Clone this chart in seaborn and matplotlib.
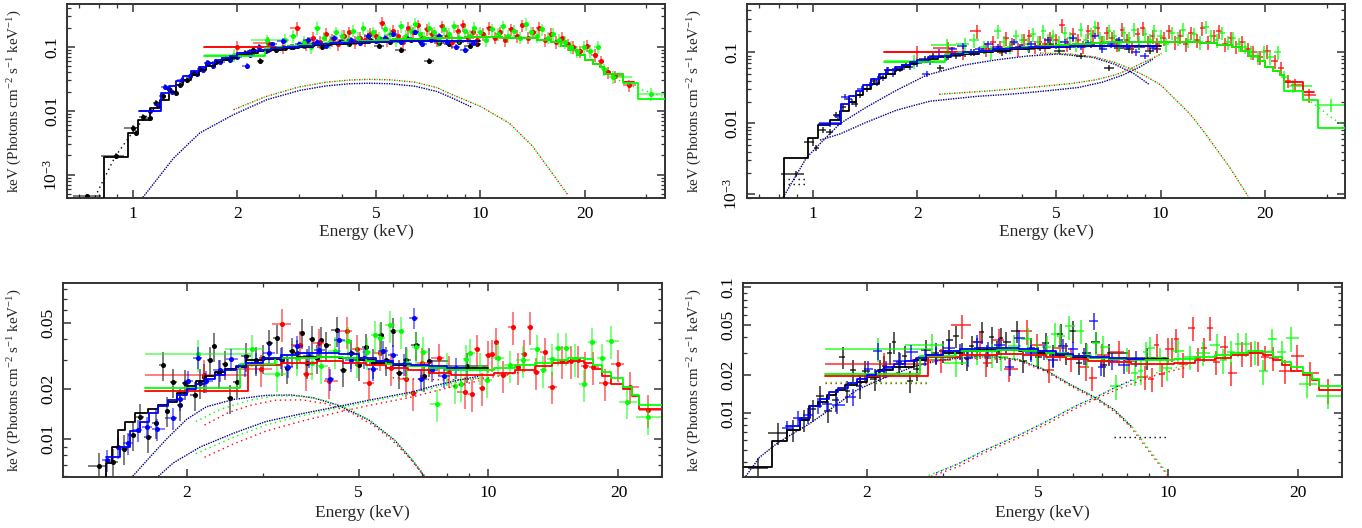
import numpy as np
import matplotlib
matplotlib.use("Agg")
import matplotlib.pyplot as plt
import seaborn as sns
from matplotlib.ticker import FixedLocator, FixedFormatter, LogLocator, NullFormatter

sns.set_theme(style="ticks")
plt.rcParams["font.family"] = ["Liberation Serif", "DejaVu Serif"]
plt.rcParams["mathtext.default"] = "regular"

BLACK, RED, GREEN, BLUE = "#000000", "#ff0000", "#00ff00", "#0000ff"
YLABEL = r"keV (Photons cm$^{-2}$ s$^{-1}$ keV$^{-1}$)"

# ======================= TOP ROW (panels A and B) =======================
top_k_E = [0.74, 0.894, 1.0, 1.02, 1.07, 1.12, 1.17, 1.22, 1.27, 1.33, 1.37, 1.43, 1.50, 1.56, 1.65,
           1.74, 1.86, 1.95, 2.1, 2.22, 2.33, 2.45, 2.59, 2.75, 2.9, 3.1, 3.3, 3.5, 3.7, 3.95, 4.2,
           4.5, 4.8, 5.1, 5.5, 5.9, 6.3, 6.7, 7.1, 7.6, 8.1, 8.7, 9.3, 9.8]
top_k_F = [0.00046, 0.00196, 0.0054, 0.0045, 0.0081, 0.0076, 0.0132, 0.0168, 0.0218, 0.019, 0.0255,
           0.0305, 0.0397, 0.045, 0.0557, 0.059, 0.066, 0.0705, 0.08, 0.09, 0.06, 0.088, 0.09, 0.095,
           0.1, 0.105, 0.11, 0.1, 0.115, 0.12, 0.11, 0.125, 0.13, 0.105, 0.12, 0.09, 0.13, 0.125,
           0.06, 0.115, 0.11, 0.12, 0.105, 0.11]
top_b_E = [1.12, 1.18, 1.24, 1.3, 1.39, 1.46, 1.53, 1.59, 1.64, 1.70, 1.78, 1.9, 2.0, 2.13, 2.18,
           2.31, 2.42, 2.52, 2.7, 2.85, 3.0, 3.2, 3.4, 3.6, 3.8, 4.0, 4.25, 4.5, 4.75, 5.0, 5.3,
           5.6, 5.9, 6.2, 6.5, 6.8, 7.2, 7.6, 8.0, 8.5, 9.0, 9.5]
top_b_F = [0.01, 0.0125, 0.0235, 0.02, 0.0305, 0.0344, 0.037, 0.044, 0.056, 0.05, 0.059, 0.063,
           0.07, 0.05, 0.074, 0.1, 0.085, 0.11, 0.125, 0.1, 0.11, 0.13, 0.12, 0.105, 0.14, 0.12,
           0.13, 0.115, 0.15, 0.125, 0.14, 0.16, 0.12, 0.135, 0.17, 0.11, 0.13, 0.15, 0.12, 0.1,
           0.09, 0.115]
top_r_E = [2.0, 2.45, 2.7, 2.96, 3.15, 3.3, 3.45, 3.6, 3.75, 3.9, 4.05, 4.2, 4.35, 4.5, 4.65, 4.8,
           5.0, 5.2, 5.4, 5.6, 5.8, 6.0, 6.2, 6.4, 6.6, 6.8, 7.0, 7.25, 7.5, 7.75, 8.0, 8.3, 8.6,
           8.9, 9.2, 9.5, 9.8, 10.2, 10.6, 11.0, 11.4, 11.8, 12.2, 12.7, 13.2, 13.7, 14.2, 14.7,
           15.3, 15.9, 16.5, 17.1, 17.8, 18.5, 19.3, 20.2, 21.3, 22.2, 23.2, 24.3, 26.8]
top_r_F = [0.1, 0.115, 0.1, 0.2, 0.11, 0.14, 0.12, 0.16, 0.13, 0.11, 0.15, 0.17, 0.12, 0.14, 0.13,
           0.16, 0.15, 0.24, 0.13, 0.18, 0.15, 0.12, 0.2, 0.17, 0.22, 0.14, 0.19, 0.16, 0.13, 0.21,
           0.15, 0.12, 0.18, 0.22, 0.14, 0.17, 0.13, 0.16, 0.2, 0.14, 0.17, 0.13, 0.19, 0.15, 0.22,
           0.14, 0.17, 0.2, 0.13, 0.16, 0.12, 0.14, 0.11, 0.1, 0.085, 0.105, 0.075, 0.06, 0.04,
           0.035, 0.025]
top_g_E = [1.96, 2.43, 2.75, 2.9, 3.1, 3.25, 3.4, 3.55, 3.7, 3.85, 4.0, 4.15, 4.3, 4.45, 4.6, 4.75,
           4.9, 5.1, 5.3, 5.5, 5.7, 5.9, 6.1, 6.3, 6.5, 6.7, 6.9, 7.1, 7.35, 7.6, 7.85, 8.1, 8.4,
           8.7, 9.0, 9.3, 9.6, 10.0, 10.4, 10.8, 11.2, 11.6, 12.0, 12.5, 13.0, 13.5, 14.0, 14.5,
           15.0, 15.6, 16.2, 16.8, 17.5, 18.2, 19.0, 19.8, 20.7, 21.7, 22.7, 24.0, 31.0]
top_g_F = [0.075, 0.128, 0.13, 0.15, 0.12, 0.1, 0.2, 0.14, 0.12, 0.17, 0.15, 0.13, 0.18, 0.14, 0.2,
           0.15, 0.17, 0.14, 0.19, 0.16, 0.13, 0.21, 0.15, 0.18, 0.23, 0.16, 0.14, 0.2, 0.17, 0.13,
           0.19, 0.16, 0.21, 0.14, 0.18, 0.15, 0.2, 0.17, 0.13, 0.19, 0.16, 0.21, 0.15, 0.18, 0.14,
           0.23, 0.17, 0.15, 0.19, 0.14, 0.16, 0.13, 0.12, 0.1, 0.085, 0.1, 0.085, 0.1, 0.045,
           0.034, 0.0183]

# model (folded total) steps, top row
top_k_mod_edges = [0.827, 0.967, 1.035, 1.12, 1.2, 1.27, 1.33, 1.4, 1.47, 1.55, 1.63, 1.72, 1.81,
                   1.9, 2.0, 2.15, 2.3, 2.5, 2.7, 3.0, 3.3, 3.7, 4.2, 4.8, 5.5, 6.5, 7.5, 8.5, 10.0]
top_k_mod_vals = [0.0019, 0.0045, 0.0073, 0.011, 0.015, 0.02, 0.025, 0.03, 0.036, 0.043, 0.05,
                  0.057, 0.063, 0.068, 0.074, 0.08, 0.086, 0.091, 0.096, 0.101, 0.106, 0.111,
                  0.116, 0.12, 0.122, 0.123, 0.123, 0.123]
top_k_mod_low_b = [0.0032, 0.0063, 0.0094]
top_b_mod_edges = [1.04, 1.21, 1.27, 1.33, 1.4, 1.47, 1.55, 1.63, 1.72, 1.81, 1.9, 2.0, 2.15, 2.3,
                   2.5, 2.7, 3.0, 3.3, 3.7, 4.2, 4.8, 5.5, 6.5, 7.5, 8.5, 9.8]
top_b_mod_vals = [0.0098, 0.019, 0.024, 0.029, 0.035, 0.042, 0.049, 0.056, 0.062, 0.067, 0.073,
                  0.079, 0.085, 0.09, 0.095, 0.1, 0.105, 0.11, 0.115, 0.119, 0.121, 0.122, 0.122,
                  0.122, 0.122]
top_r_mod_edges = [1.6, 2.6, 2.8, 3.0, 3.3, 3.6, 4.0, 4.5, 5.0, 5.6, 6.3, 7.0, 8.0, 9.0, 10.0, 11.5,
                   13.0, 14.5, 16.0, 17.0, 18.0, 19.0, 20.0, 21.0, 22.0, 22.7, 25.6, 27.6]
top_r_mod_vals = [0.1, 0.098, 0.102, 0.106, 0.11, 0.115, 0.12, 0.125, 0.128, 0.132, 0.135, 0.138,
                  0.14, 0.141, 0.141, 0.14, 0.136, 0.128, 0.12, 0.105, 0.09, 0.075, 0.062, 0.054,
                  0.048, 0.038, 0.028]
top_g_mod_edges = [1.6, 2.4, 2.6, 2.8, 3.0, 3.3, 3.6, 4.0, 4.5, 5.0, 5.6, 6.3, 7.0, 8.0, 9.0, 10.0,
                   11.5, 13.0, 14.5, 16.0, 17.0, 18.0, 19.0, 20.0, 21.0, 22.0, 22.7, 25.6, 28.4, 33.9]
top_g_mod_vals = [0.073, 0.095, 0.098, 0.102, 0.106, 0.11, 0.115, 0.12, 0.125, 0.128, 0.132, 0.135,
                  0.138, 0.14, 0.141, 0.141, 0.14, 0.136, 0.128, 0.12, 0.105, 0.09, 0.075, 0.062,
                  0.054, 0.048, 0.038, 0.027, 0.0155]
top_g_mod_end_b = [0.029, 0.021, 0.0087]

# model components, panel A
A_bb_rg_E = [1.95, 2.4, 3.0, 3.6, 4.2, 4.8, 5.5, 6.5, 7.5, 8.2, 10.0, 12.1, 14.1, 15.8, 17.8]
A_bb_rg_F = [0.0104, 0.0165, 0.0235, 0.028, 0.0303, 0.031, 0.0305, 0.028, 0.023, 0.0184, 0.0117,
             0.0064, 0.0028, 0.0012, 0.00049]
A_bb_bk_E = [1.07, 1.31, 1.56, 1.95, 2.43, 3.02, 3.6, 4.2, 4.8, 5.5, 6.5, 7.5, 8.2, 9.4]
A_bb_bk_F = [0.00044, 0.0018, 0.0045, 0.0087, 0.0149, 0.0208, 0.0245, 0.0265, 0.027, 0.0265,
             0.0242, 0.02, 0.0163, 0.0115]
A_tot_k_E = [0.78, 0.89, 1.0, 1.1, 1.2]
A_tot_k_F = [0.00045, 0.0019, 0.0046, 0.0085, 0.013]
A_tot_g_E = [25.0, 28.0, 31.0, 33.9]
A_tot_g_F = [0.03, 0.023, 0.019, 0.0165]

# model components, panel B
B_up_bk_E = [0.823, 0.961, 1.073, 1.198, 1.43, 1.743, 2.126, 2.71, 3.4, 4.16, 5.08, 6.4, 7.39, 8.4, 9.3]
B_up_bk_F = [0.00091, 0.0033, 0.00575, 0.0099, 0.017, 0.0293, 0.0478, 0.066, 0.079, 0.089, 0.095,
             0.085, 0.068, 0.05, 0.035]
B_fall_rg_E = [4.5, 5.5, 6.5, 7.4, 8.18, 9.0, 10.0, 11.0, 12.13, 13.1, 14.1, 15.8, 17.8, 18.6]
B_fall_rg_F = [0.098, 0.095, 0.086, 0.072, 0.059, 0.047, 0.035, 0.022, 0.0137, 0.0085, 0.0052,
               0.0024, 0.00096, 0.0007]
B_low_bk_E = [1.05, 1.2, 1.43, 1.74, 2.17, 2.96, 3.8, 4.8, 5.8, 6.8, 7.8, 8.7, 9.5]
B_low_bk_F = [0.0058, 0.0071, 0.0104, 0.0153, 0.0205, 0.024, 0.026, 0.029, 0.032, 0.038, 0.048,
              0.062, 0.08]
B_low_rg_E = [2.31, 3.0, 3.6, 4.5, 5.54, 6.5, 7.39, 8.1, 8.8, 9.5, 10.1]
B_low_rg_F = [0.0257, 0.028, 0.0299, 0.033, 0.0364, 0.041, 0.048, 0.057, 0.07, 0.083, 0.097]
B_flat_k_range = [0.823, 0.961]
B_flat_k_levels = [0.00165, 0.0014]
B_tot_g_E = [25.6, 28.4, 31.0, 33.9]
B_tot_g_F = [0.024, 0.017, 0.012, 0.0092]

# ======================= BOTTOM ROW (panels C and D) =======================
bot_k_E = [1.12, 1.25, 1.35, 1.43, 1.5, 1.56, 1.63, 1.70, 1.76, 1.80, 1.86, 1.93, 1.98, 2.09, 2.15,
           2.19, 2.27, 2.31, 2.38, 2.45, 2.52, 2.61, 2.74, 2.89, 3.0, 3.1, 3.23, 3.33, 3.42, 3.5,
           3.6, 3.7, 3.8, 3.9, 4.0, 4.1, 4.2, 4.45, 4.6, 4.8, 5.0, 5.2, 5.4, 5.63, 5.8, 6.0, 6.2,
           6.45, 6.8, 7.1, 7.3, 8.9]
bot_k_F = [0.0036, 0.0069, 0.0073, 0.0088, 0.0106, 0.0137, 0.0104, 0.0126, 0.028, 0.0149, 0.0221,
           0.0162, 0.0217, 0.0185, 0.022, 0.0238, 0.0301, 0.0365, 0.0252, 0.0284, 0.0178, 0.0222,
           0.0318, 0.030, 0.031, 0.038, 0.0407, 0.030, 0.027, 0.034, 0.033, 0.044, 0.029, 0.040,
           0.031, 0.0394, 0.037, 0.0453, 0.026, 0.033, 0.028, 0.036, 0.029, 0.0423, 0.030, 0.045,
           0.025, 0.030, 0.037, 0.024, 0.0297, 0.0275]
bot_b_E = [1.31, 1.39, 1.46, 1.54, 1.62, 1.71, 1.86, 1.93, 2.01, 2.12, 2.22, 2.39, 2.54, 2.73, 2.9,
           3.1, 3.3, 3.44, 3.61, 3.83, 4.05, 4.3, 4.5, 4.8, 5.14, 5.4, 5.7, 6.0, 6.36, 6.74, 6.98,
           7.4, 7.9, 8.4]
bot_b_F = [0.0075, 0.009, 0.0095, 0.0114, 0.0118, 0.0115, 0.0134, 0.0175, 0.0224, 0.0311, 0.0224,
           0.026, 0.0303, 0.028, 0.029, 0.033, 0.031, 0.0274, 0.0365, 0.0316, 0.0345, 0.023,
           0.0394, 0.03, 0.031, 0.0265, 0.034, 0.032, 0.0284, 0.054, 0.023, 0.026, 0.024, 0.027]
bot_r_E = [2.19, 2.97, 3.33, 3.66, 3.78, 4.05, 4.27, 4.71, 4.96, 5.28, 5.6, 5.95, 6.44, 6.67, 7.0,
           7.7, 8.1, 8.81, 9.14, 9.4, 9.64, 10.0, 10.2, 10.4, 10.8, 11.4, 11.7, 12.1, 12.5, 12.9,
           13.5, 14.0, 14.8, 15.5, 16.1, 16.7, 17.5, 18.6, 19.9, 21.3, 23.4]
bot_r_F = [0.0245, 0.0265, 0.0498, 0.0368, 0.0249, 0.038, 0.0224, 0.0447, 0.035, 0.022, 0.033,
           0.027, 0.023, 0.019, 0.029, 0.0307, 0.026, 0.0194, 0.0187, 0.0349, 0.0205, 0.0322,
           0.0325, 0.0384, 0.0244, 0.0477, 0.0271, 0.0326, 0.0477, 0.0255, 0.0336, 0.0208,
           0.0298, 0.0298, 0.030, 0.0277, 0.0274, 0.0217, 0.0283, 0.0208, 0.0151]
bot_g_E = [2.13, 2.83, 3.23, 3.6, 3.9, 4.1, 4.4, 4.73, 4.95, 5.23, 5.45, 5.6, 5.9, 6.26, 6.48, 6.8,
           7.07, 7.58, 8.0, 8.36, 8.62, 8.88, 9.07, 9.56, 9.9, 10.5, 11.2, 12.0, 12.95, 13.4, 14.0,
           14.5, 15.1, 15.9, 16.6, 17.4, 18.3, 19.2, 20.9, 23.4]
bot_g_F = [0.0325, 0.035, 0.0247, 0.031, 0.029, 0.0277, 0.034, 0.039, 0.030, 0.0335, 0.0423, 0.041,
           0.0488, 0.045, 0.029, 0.036, 0.0337, 0.0163, 0.027, 0.0209, 0.0214, 0.0303, 0.033,
           0.0271, 0.0228, 0.031, 0.028, 0.030, 0.0348, 0.0262, 0.0306, 0.0356, 0.0356, 0.0306,
           0.0214, 0.0384, 0.0307, 0.0393, 0.0169, 0.0137]

C_k_mod_edges = [1.15, 1.30, 1.34, 1.39, 1.44, 1.52, 1.63, 1.72, 1.81, 1.90, 2.0, 2.1, 2.2, 2.32,
                 2.45, 2.6, 2.75, 3.0, 3.3, 3.6, 4.0, 4.5, 5.0, 5.5, 6.0, 6.6, 7.3, 8.0, 10.0]
C_k_mod_vals = [0.0055, 0.0072, 0.009, 0.0114, 0.0128, 0.0145, 0.0152, 0.016, 0.0168, 0.019, 0.021,
                0.0225, 0.024, 0.0255, 0.0265, 0.0272, 0.030, 0.0305, 0.031, 0.0315, 0.0315, 0.031,
                0.030, 0.029, 0.028, 0.0275, 0.027, 0.027]
D_k_mod_edges = [1.04, 1.21, 1.31, 1.40, 1.47, 1.54, 1.62, 1.70, 1.78, 1.90, 2.0, 2.14, 2.30, 2.57,
                 2.75, 3.0, 3.3, 3.6, 4.0, 4.5, 5.0, 5.5, 6.0, 6.6, 7.3, 8.0, 10.0]
D_k_mod_vals = [0.0037, 0.0059, 0.0073, 0.0088, 0.0112, 0.0122, 0.0138, 0.0152, 0.0166, 0.0177,
                0.0192, 0.0219, 0.0233, 0.0263, 0.029, 0.030, 0.031, 0.0315, 0.0315, 0.031, 0.030,
                0.029, 0.028, 0.0275, 0.027, 0.027]
bot_b_mod_edges = [1.30, 1.40, 1.48, 1.56, 1.64, 1.72, 1.81, 1.90, 2.0, 2.1, 2.2, 2.32, 2.45, 2.6,
                   2.75, 3.0, 3.3, 3.6, 4.0, 4.5, 5.0, 5.5, 6.0, 6.6, 7.3, 8.0, 8.8]
bot_b_mod_vals = [0.0078, 0.009, 0.0112, 0.0128, 0.0145, 0.0158, 0.0172, 0.0185, 0.02, 0.0215,
                  0.023, 0.0245, 0.026, 0.0275, 0.029, 0.031, 0.032, 0.033, 0.033, 0.0325, 0.031,
                  0.0295, 0.0285, 0.028, 0.0275, 0.027]
bot_r_mod_edges = [1.6, 2.77, 3.3, 4.0, 4.6, 5.2, 5.8, 6.5, 7.3, 8.2, 9.2, 10.3, 11.5, 12.8, 14.0,
                   15.3, 16.6, 17.5, 18.3, 19.2, 20.5, 21.5, 22.3, 25.2]
bot_r_mod_vals = [0.0196, 0.028, 0.029, 0.0295, 0.029, 0.028, 0.027, 0.026, 0.0252, 0.0245, 0.0245,
                  0.025, 0.0262, 0.0275, 0.0288, 0.0297, 0.029, 0.0265, 0.024, 0.0215, 0.02,
                  0.0182, 0.0153]
bot_g_mod_edges = [1.6, 2.66, 3.2, 4.0, 4.6, 5.2, 5.8, 6.5, 7.3, 8.2, 9.2, 10.3, 11.5, 12.8, 14.0,
                   15.3, 16.6, 17.5, 18.3, 19.2, 20.5, 21.5, 22.3, 25.2]
bot_g_mod_vals = [0.0203, 0.0285, 0.031, 0.0315, 0.031, 0.0298, 0.0285, 0.0275, 0.027, 0.0262,
                  0.0262, 0.027, 0.028, 0.029, 0.0302, 0.031, 0.0305, 0.028, 0.0255, 0.0233,
                  0.0207, 0.0185, 0.0162]

# model components, panel C
C_up_bk_E = [1.5, 1.65, 1.8, 2.0, 2.22, 2.57, 3.05, 3.5, 3.93, 4.5, 5.28, 6.06, 6.66, 7.1]
C_up_bk_F = [0.006, 0.0079, 0.0101, 0.0132, 0.0157, 0.0174, 0.0184, 0.0185, 0.0178, 0.016, 0.0131,
             0.0099, 0.0075, 0.006]
C_up_r_E = [2.2, 2.5, 2.8, 3.2, 3.7, 4.2, 4.8, 5.4, 6.0, 6.6, 7.1]
C_up_r_F = [0.0122, 0.0145, 0.016, 0.0172, 0.0173, 0.0164, 0.0145, 0.0122, 0.0098, 0.0076, 0.006]
C_up_g_E = [2.1, 2.4, 2.8, 3.2, 3.7, 4.2, 4.8, 5.4, 6.0, 6.6, 7.1]
C_up_g_F = [0.0128, 0.0152, 0.0172, 0.0183, 0.0182, 0.0171, 0.0151, 0.0127, 0.0101, 0.0078, 0.0061]
C_low_bk_E = [1.72, 1.86, 2.15, 2.57, 3.05, 3.66, 4.5, 5.28, 6.66, 7.47, 8.38, 9.5]
C_low_bk_F = [0.006, 0.0072, 0.009, 0.0109, 0.0128, 0.0142, 0.0158, 0.0172, 0.0193, 0.021, 0.0225, 0.024]
C_low_r_E = [2.2, 2.57, 3.05, 3.66, 4.5, 5.28, 6.66, 7.5, 8.4, 9.5]
C_low_r_F = [0.0078, 0.0094, 0.0112, 0.0128, 0.0146, 0.016, 0.018, 0.0195, 0.021, 0.0225]
C_low_g_E = [2.1, 2.57, 3.05, 3.66, 4.5, 5.28, 6.66, 7.5, 8.4, 9.5]
C_low_g_F = [0.0082, 0.0103, 0.0122, 0.0138, 0.0155, 0.0168, 0.019, 0.0205, 0.022, 0.0235]
C_tot_r_E = [6.0, 7.0, 8.0, 9.0, 10.0, 11.0, 12.0]
C_tot_r_F = [0.0235, 0.023, 0.0228, 0.023, 0.0235, 0.0245, 0.0255]

# model components, panel D
D_soft_bk_E = [1.05, 1.13, 1.25, 1.47, 1.64, 1.9, 2.2, 2.57, 3.0, 3.53, 4.0, 4.5, 5.2, 5.96, 6.83, 7.5, 8.23]
D_soft_bk_F = [0.0031, 0.0044, 0.0058, 0.0081, 0.0105, 0.0152, 0.019, 0.0233, 0.0265, 0.028, 0.0278,
               0.0265, 0.0218, 0.0166, 0.013, 0.0105, 0.0077]
D_soft_rg_E = [2.8, 3.2, 3.8, 4.5, 5.2, 5.96, 6.83, 7.5, 8.23, 9.02, 10.0]
D_soft_r_F = [0.0255, 0.027, 0.0272, 0.026, 0.0213, 0.0162, 0.0126, 0.0102, 0.0075, 0.0049, 0.0031]
D_soft_g_F = [0.0262, 0.0277, 0.028, 0.0268, 0.022, 0.0167, 0.013, 0.0105, 0.0078, 0.0051, 0.0032]
D_hard_E = [2.75, 3.26, 3.75, 4.5, 5.29, 6.22, 6.83, 7.5, 8.6, 9.6, 11.0]
D_hard_r_F = [0.003, 0.0037, 0.0048, 0.0063, 0.0083, 0.0112, 0.013, 0.015, 0.018, 0.0205, 0.023]
D_hard_g_F = [0.0031, 0.0039, 0.005, 0.0066, 0.0087, 0.0117, 0.0134, 0.0158, 0.019, 0.0213, 0.024]
D_hard_b_E = [2.9, 3.26, 3.75, 4.5, 5.29, 6.22, 6.83, 7.5, 8.3]
D_hard_b_F = [0.0033, 0.0039, 0.005, 0.0066, 0.0087, 0.0117, 0.0134, 0.0158, 0.0185]
D_flat_rg_range = [1.6, 2.77]
D_flat_rg_levels = [0.0172, 0.0177]
D_flat_k_range = [7.5, 9.9]
D_flat_k_level = 0.0064

# ---------------------------------------------------------------------------
DOT = (0, (1, 2.6))
DOT_OFF = (1.8, (1, 2.6))


def bin_edges(E, first=None, last=None):
    lg = np.log10(np.asarray(E, float))
    mid = 0.5 * (lg[:-1] + lg[1:])
    lo = 10 ** np.concatenate([[2 * lg[0] - mid[0]], mid])
    hi = 10 ** np.concatenate([mid, [2 * lg[-1] - mid[-1]]])
    if first is not None:
        lo[0], hi[0] = first
    if last is not None:
        lo[-1], hi[-1] = last
    return lo, hi


def draw_data(ax, E, F, rel, color, dots, z, first=None, last=None):
    E = np.asarray(E, float)
    F = np.asarray(F, float)
    lo, hi = bin_edges(E, first, last)
    ax.errorbar(E, F, xerr=[E - lo, hi - E], yerr=rel * F, fmt="none", ecolor=color,
                elinewidth=1.3, alpha=0.55 if dots else 0.7, capsize=0, zorder=z)
    if dots:
        sns.scatterplot(x=E, y=F, ax=ax, color=color, s=13, linewidth=0, zorder=z + 0.1,
                        legend=False)


def draw_model(ax, edges, vals, color, z, drop=False):
    x = np.asarray(edges, float)
    y = np.append(np.asarray(vals, float), vals[-1])
    ax.step(x, y, where="post", color=color, lw=1.3, zorder=z)
    if drop:
        ax.vlines(x[0], ax.get_ylim()[0], y[0], color=color, lw=1.3, zorder=z)


def dotted(ax, E, F, color, shifted=False, z=2.5):
    ax.plot(E, F, color=color, lw=1.0, linestyle=DOT_OFF if shifted else DOT, zorder=z)


def flat(ax, lev, e0, e1, color):
    ax.hlines(lev, e0, e1, colors=color, lw=1.0, linestyles=DOT, zorder=2.5)


def style_axes(ax, xlim, ylim, xt, yt, ylabs, ylab_x, xlab_y):
    ax.set_xscale("log")
    ax.set_yscale("log")
    ax.set_xlim(*xlim)
    ax.set_ylim(*ylim)
    ax.xaxis.set_major_locator(FixedLocator(xt))
    ax.xaxis.set_major_formatter(FixedFormatter([f"{v:g}" for v in xt]))
    ax.xaxis.set_minor_locator(LogLocator(base=10, subs=np.arange(1, 10), numticks=50))
    ax.xaxis.set_minor_formatter(NullFormatter())
    ax.yaxis.set_major_locator(FixedLocator(yt))
    ax.yaxis.set_major_formatter(FixedFormatter(ylabs))
    ax.yaxis.set_minor_locator(LogLocator(base=10, subs=np.arange(1, 10), numticks=50))
    ax.yaxis.set_minor_formatter(NullFormatter())
    ax.tick_params(which="both", direction="in", top=True, right=True, colors="#333333",
                   labelcolor="black", labelsize=12.5)
    ax.tick_params(which="major", length=6, width=1.1)
    ax.tick_params(which="minor", length=3, width=0.9)
    ax.tick_params(axis="x", which="major", pad=6)
    ax.tick_params(axis="y", which="major", labelrotation=90, pad=5)
    for lab in ax.get_yticklabels():
        lab.set_va("center")
    for s in ax.spines.values():
        s.set_color("#333333")
        s.set_linewidth(1.4)
    ax.set_xlabel("Energy (keV)", fontsize=12.5)
    ax.set_ylabel(YLABEL, fontsize=10.8)
    ax.yaxis.set_label_coords(ylab_x, 0.5)
    ax.xaxis.set_label_coords(0.5, xlab_y)


fig = plt.figure(figsize=(13.62, 5.28), dpi=100)
axA = fig.add_axes([0.0494, 0.6256, 0.4388, 0.3669])
axB = fig.add_axes([0.5487, 0.6256, 0.4388, 0.3669])
axC = fig.add_axes([0.0465, 0.0972, 0.4394, 0.3663])
axD = fig.add_axes([0.5457, 0.0972, 0.4394, 0.3663])

top_xt = [1, 2, 5, 10, 20]
bot_xt = [2, 5, 10, 20]
top_labs = [r"$10^{-3}$", "0.01", "0.1"]
style_axes(axA, (0.649, 33.9), (4.36e-4, 0.47), top_xt, [1e-3, 1e-2, 1e-1], top_labs, -0.072, -0.137)
style_axes(axB, (0.649, 33.9), (8.95e-4, 0.482), top_xt, [1e-3, 1e-2, 1e-1], top_labs, -0.072, -0.137)
style_axes(axC, (1.036, 25.2), (0.00596, 0.0871), bot_xt, [0.01, 0.02, 0.05],
           ["0.01", "0.02", "0.05"], -0.066, -0.146)
style_axes(axD, (1.036, 25.2), (0.00308, 0.108), bot_xt, [0.01, 0.02, 0.05, 0.1],
           ["0.01", "0.02", "0.05", "0.1"], -0.066, -0.146)

# ---------------- top row ----------------
for ax, dots in ((axA, True), (axB, False)):
    draw_data(ax, top_k_E, top_k_F, 0.10, BLACK, dots, 2.0)
    draw_data(ax, top_r_E, top_r_F, 0.22, RED, dots, 2.2, first=(1.6, 2.6), last=(25.6, 28.0))
    draw_data(ax, top_g_E, top_g_F, 0.22, GREEN, dots, 2.4, first=(1.6, 2.4), last=(28.4, 33.9))
    draw_data(ax, top_b_E, top_b_F, 0.10, BLUE, dots, 2.6, first=(1.04, 1.21))

# panel A models
dotted(axA, A_bb_rg_E, A_bb_rg_F, RED)
dotted(axA, A_bb_rg_E, A_bb_rg_F, GREEN, shifted=True)
dotted(axA, A_bb_bk_E, A_bb_bk_F, BLACK)
dotted(axA, A_bb_bk_E, A_bb_bk_F, BLUE, shifted=True)
dotted(axA, A_tot_k_E, A_tot_k_F, BLACK)
dotted(axA, A_tot_g_E, A_tot_g_F, GREEN)
draw_model(axA, top_k_mod_edges, top_k_mod_vals, BLACK, 3.0, drop=True)
draw_model(axA, top_r_mod_edges, top_r_mod_vals, RED, 3.1)
draw_model(axA, top_g_mod_edges, top_g_mod_vals, GREEN, 3.2)
draw_model(axA, top_b_mod_edges, top_b_mod_vals, BLUE, 3.3)

# panel B models
dotted(axB, B_up_bk_E, B_up_bk_F, BLACK)
dotted(axB, B_up_bk_E, B_up_bk_F, BLUE, shifted=True)
dotted(axB, B_low_bk_E, B_low_bk_F, BLACK)
dotted(axB, B_low_bk_E, B_low_bk_F, BLUE, shifted=True)
dotted(axB, B_fall_rg_E, B_fall_rg_F, RED)
dotted(axB, B_fall_rg_E, B_fall_rg_F, GREEN, shifted=True)
dotted(axB, B_low_rg_E, B_low_rg_F, RED)
dotted(axB, B_low_rg_E, B_low_rg_F, GREEN, shifted=True)
for lev in B_flat_k_levels:
    flat(axB, lev, B_flat_k_range[0], B_flat_k_range[1], BLACK)
dotted(axB, B_tot_g_E, B_tot_g_F, GREEN)
draw_model(axB, top_k_mod_edges, top_k_mod_low_b + top_k_mod_vals[3:], BLACK, 3.0, drop=True)
draw_model(axB, top_r_mod_edges, top_r_mod_vals, RED, 3.1)
draw_model(axB, top_g_mod_edges, top_g_mod_vals[:-3] + top_g_mod_end_b, GREEN, 3.2)
draw_model(axB, top_b_mod_edges, top_b_mod_vals, BLUE, 3.3)

# ---------------- bottom row ----------------
for ax, dots in ((axC, True), (axD, False)):
    draw_data(ax, bot_k_E, bot_k_F, 0.20, BLACK, dots, 2.0, last=(7.9, 10.0))
    draw_data(ax, bot_r_E, bot_r_F, 0.22, RED, dots, 2.2, first=(1.6, 2.77), last=(22.3, 25.2))
    draw_data(ax, bot_g_E, bot_g_F, 0.22, GREEN, dots, 2.4, first=(1.6, 2.83), last=(22.0, 25.2))
    draw_data(ax, bot_b_E, bot_b_F, 0.15, BLUE, dots, 2.6)

# panel C models
dotted(axC, C_up_bk_E, C_up_bk_F, BLACK)
dotted(axC, C_up_bk_E, C_up_bk_F, BLUE, shifted=True)
dotted(axC, C_up_r_E, C_up_r_F, RED)
dotted(axC, C_up_g_E, C_up_g_F, GREEN)
dotted(axC, C_low_bk_E, C_low_bk_F, BLACK)
dotted(axC, C_low_bk_E, C_low_bk_F, BLUE, shifted=True)
dotted(axC, C_low_r_E, C_low_r_F, RED)
dotted(axC, C_low_g_E, C_low_g_F, GREEN)
dotted(axC, C_tot_r_E, C_tot_r_F, RED)
draw_model(axC, C_k_mod_edges, C_k_mod_vals, BLACK, 3.0)
draw_model(axC, bot_r_mod_edges, bot_r_mod_vals, RED, 3.1)
draw_model(axC, bot_g_mod_edges, bot_g_mod_vals, GREEN, 3.2)
draw_model(axC, bot_b_mod_edges, bot_b_mod_vals, BLUE, 3.3)

# panel D models
dotted(axD, D_soft_bk_E, D_soft_bk_F, BLACK)
dotted(axD, D_soft_bk_E, D_soft_bk_F, BLUE, shifted=True)
dotted(axD, D_soft_rg_E, D_soft_r_F, RED)
dotted(axD, D_soft_rg_E, D_soft_g_F, GREEN, shifted=True)
dotted(axD, D_hard_E, D_hard_r_F, RED)
dotted(axD, D_hard_E, D_hard_g_F, GREEN, shifted=True)
dotted(axD, D_hard_b_E, D_hard_b_F, BLUE)
for lev, col in zip(D_flat_rg_levels, (RED, GREEN)):
    flat(axD, lev, D_flat_rg_range[0], D_flat_rg_range[1], col)
flat(axD, D_flat_k_level, D_flat_k_range[0], D_flat_k_range[1], BLACK)
draw_model(axD, D_k_mod_edges, D_k_mod_vals, BLACK, 3.0)
draw_model(axD, bot_r_mod_edges, bot_r_mod_vals, RED, 3.1)
draw_model(axD, bot_g_mod_edges, bot_g_mod_vals, GREEN, 3.2)
draw_model(axD, bot_b_mod_edges, bot_b_mod_vals, BLUE, 3.3)

fig.savefig("out.png", dpi=100)
